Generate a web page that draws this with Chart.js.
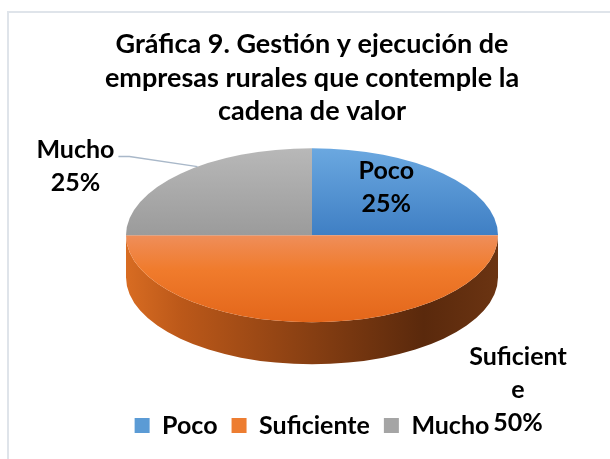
<!DOCTYPE html>
<html>
<head>
<meta charset="utf-8">
<script src="https://cdn.jsdelivr.net/npm/chart.js@4.4.1/dist/chart.umd.min.js"></script>
<style>
    html, body { margin: 0; padding: 0; background: #fff; }
    #wrap { width: 610px; height: 459px; position: relative; }
</style>
</head>
<body>
<div id="wrap"><canvas id="pieChart"></canvas></div>
<script>
    const categories = ['Poco', 'Suficiente', 'Mucho'];
    const values = [25, 50, 25];
    const titleLines = ['Gráfica 9. Gestión y ejecución de', 'empresas rurales que contemple la', 'cadena de valor'];

    const solidColors = ['#5b9bd5', '#ed7d31', '#a5a5a5'];
    const topStops = [
        [[0, '#6ba8e0'], [0.5, '#3f7fc4']],
        [[0.5, '#ef8e5a'], [0.7, '#f07b2c'], [1, '#e3661a']],
        [[0, '#b8b8b8'], [0.5, '#9b9b9b']]
    ];
    const sideStops = [
        [[0, '#3f7fc4'], [1, '#1f4e79']],
        [[0, '#d86c22'], [0.15, '#bb5819'], [0.45, '#8e4213'], [0.8, '#5a290c'], [1, '#6b3412']],
        [[0, '#8a8a8a'], [1, '#555555']]
    ];
    // label placement: shift from slice middle (deg), distance in radii, char wrap
    const labelPlacement = [
        { shift: -9, dist: 0.68 },
        { shift: -32, dist: 2.09, wrap: 9 },
        { shift: -13, dist: 1.5, leader: 7 }
    ];

    const FONT = 'Lato, "Open Sans", sans-serif';
    const RADIUS = 186;
    const TILT = 0.468;
    const DEPTH = 42;

    const total = values.reduce((a, b) => a + b, 0);

    function gradient(chart, stops, horizontal) {
        const area = chart.chartArea;
        const cx = (area.left + area.right) / 2;
        const cy = (area.top + area.bottom) / 2;
        const g = horizontal
            ? chart.ctx.createLinearGradient(cx - RADIUS, 0, cx + RADIUS, 0)
            : chart.ctx.createLinearGradient(0, cy - RADIUS, 0, cy + RADIUS);
        stops.forEach(s => g.addColorStop(s[0], s[1]));
        return g;
    }

    function wrapText(text, n) {
        if (!n) return [text];
        const out = [];
        for (let i = 0; i < text.length; i += n) out.push(text.slice(i, i + n));
        return out;
    }

    const framePlugin = {
        id: 'frame',
        beforeDraw(chart) {
            const ctx = chart.ctx;
            ctx.save();
            ctx.fillStyle = '#fff';
            ctx.fillRect(0, 0, chart.width, chart.height);
            ctx.strokeStyle = '#dfe4ea';
            ctx.lineWidth = 2;
            ctx.beginPath();
            ctx.moveTo(8, chart.height);
            ctx.lineTo(8, 12);
            ctx.lineTo(chart.width, 12);
            ctx.stroke();
            ctx.restore();
        }
    };

    const pie3d = {
        id: 'pie3d',
        beforeDatasetsDraw(chart) {
            const ctx = chart.ctx;
            const arcs = chart.getDatasetMeta(0).data;
            const { x, y, outerRadius } = arcs[0];
            const cy = y - DEPTH / 2;
            const ry = outerRadius * TILT;
            ctx.save();
            arcs.forEach((arc, i) => {
                const s = Math.max(arc.startAngle, 0);
                const e = Math.min(arc.endAngle, Math.PI);
                if (e <= s) return;
                ctx.beginPath();
                ctx.ellipse(x, cy, outerRadius, ry, 0, s, e);
                ctx.ellipse(x, cy + DEPTH, outerRadius, ry, 0, e, s, true);
                ctx.closePath();
                ctx.fillStyle = gradient(chart, sideStops[i], true);
                ctx.fill();
            });
            ctx.translate(x, cy);
            ctx.scale(1, TILT);
            ctx.translate(-x, -y);
        },
        afterDatasetsDraw(chart) {
            const ctx = chart.ctx;
            ctx.restore();
            const arcs = chart.getDatasetMeta(0).data;
            const { x, y, outerRadius: r } = arcs[0];
            const cy = y - DEPTH / 2;
            ctx.save();
            ctx.font = 'bold 25px ' + FONT;
            ctx.textAlign = 'center';
            ctx.textBaseline = 'middle';
            arcs.forEach((arc, i) => {
                const p = labelPlacement[i];
                const mid = (arc.startAngle + arc.endAngle) / 2;
                const a = mid + p.shift * Math.PI / 180;
                const lx = x + Math.cos(a) * r * p.dist;
                const ly = cy + Math.sin(a) * r * p.dist * TILT;
                const lines = wrapText(categories[i], p.wrap).concat(Math.round(values[i] / total * 100) + '%');
                const lh = 33;
                const top = ly - (lines.length - 1) * lh / 2;
                if (p.leader !== undefined) {
                    const w = ctx.measureText(lines[0]).width;
                    const la = mid + p.leader * Math.PI / 180;
                    const sx = lx + w / 2 + 4;
                    const sy = top + 7;
                    ctx.strokeStyle = '#a9b8c9';
                    ctx.lineWidth = 1.5;
                    ctx.beginPath();
                    ctx.moveTo(sx, sy);
                    ctx.lineTo(sx + 11, sy);
                    ctx.lineTo(x + Math.cos(la) * r, cy + Math.sin(la) * r * TILT);
                    ctx.stroke();
                }
                ctx.fillStyle = '#000';
                lines.forEach((t, j) => ctx.fillText(t, lx, top + j * lh));
            });
            ctx.restore();
        }
    };

    const ctx = document.getElementById('pieChart').getContext('2d');
    const chart = new Chart(ctx, {
        type: 'pie',
        data: {
            labels: categories,
            datasets: [{
                data: values,
                backgroundColor: c => c.chart.chartArea ? gradient(c.chart, topStops[c.dataIndex], false) : solidColors[c.dataIndex],
                borderWidth: 0,
                radius: RADIUS,
                clip: false
            }]
        },
        options: {
            responsive: true,
            maintainAspectRatio: false,
            animation: false,
            layout: { padding: { left: 14, right: 0, top: 28, bottom: 11 } },
            plugins: {
                title: {
                    display: true,
                    text: titleLines,
                    color: '#000',
                    font: { family: FONT, size: 27, weight: 'bold', lineHeight: 1.24 },
                    padding: { top: 0, bottom: -15 }
                },
                legend: {
                    position: 'bottom',
                    labels: {
                        color: '#000',
                        boxWidth: 15,
                        boxHeight: 15,
                        padding: 14,
                        font: { family: FONT, size: 25, weight: 'bold' },
                        generateLabels(chart) {
                            return categories.map((name, i) => ({
                                text: name,
                                fillStyle: solidColors[i],
                                strokeStyle: solidColors[i],
                                lineWidth: 0,
                                index: i,
                                hidden: false
                            }));
                        }
                    }
                },
                tooltip: { enabled: false }
            }
        },
        plugins: [framePlugin, pie3d]
    });
</script>
</body>
</html>
